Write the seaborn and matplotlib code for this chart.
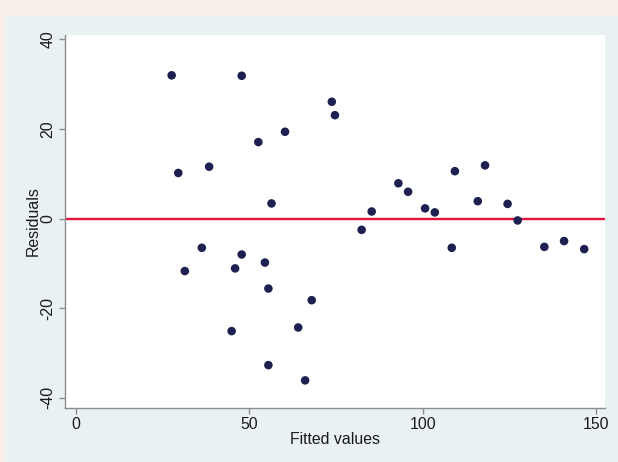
import numpy as np
import pandas as pd
import seaborn as sns
import matplotlib.pyplot as plt
from matplotlib.patches import Rectangle

# residuals vs fitted values
fitted = [27.6, 47.8, 29.5, 38.4, 73.8, 74.7, 60.3, 52.6, 56.4, 85.3,
          93.0, 95.8, 100.7, 103.5, 109.3, 118.0, 115.9, 124.5, 127.4, 36.3,
          47.8, 45.9, 31.4, 44.9, 82.4, 54.5, 55.5, 68.0, 64.1, 55.5,
          66.1, 108.4, 135.1, 140.8, 146.6]
resid = [32.0, 31.9, 10.2, 11.6, 26.1, 23.1, 19.4, 17.1, 3.4, 1.6,
         7.9, 6.0, 2.3, 1.4, 10.6, 11.9, 3.9, 3.3, -0.4, -6.5,
         -8.0, -11.1, -11.7, -25.1, -2.5, -9.8, -15.6, -18.2, -24.3, -32.7,
         -36.1, -6.5, -6.3, -5.0, -6.8]
x_ticks = [0, 50, 100, 150]
y_ticks = [-40, -20, 0, 20, 40]

df = pd.DataFrame({"fitted": fitted, "resid": resid})

plt.rcParams['font.family'] = ['Liberation Sans', 'DejaVu Sans']
plt.rcParams['axes.unicode_minus'] = False

W, H = 618, 462
fig = plt.figure(figsize=(W / 100, H / 100), dpi=100, facecolor='#f8eee8')
#stata style graph region, kept behind the axes
fig.add_artist(Rectangle((5 / W, 0), 1, 1 - 16 / H, transform=fig.transFigure,
                         facecolor='#e9f1f3', edgecolor='none', zorder=-5))

ax = fig.add_axes([65 / W, 1 - 407.7 / H, 540 / W, (407.7 - 35) / H])
ax.set_zorder(2)
ax.set_facecolor('white')

sns.scatterplot(x='fitted', y='resid', data=df, ax=ax, color='#1d2050',
                s=38, edgecolor='none', zorder=3)
ax.axhline(0, color='#e0143c', lw=1.7, zorder=2)

ax.set_xlim(-3.17, 152.6)
ax.set_ylim(-42.2, 41.0)
ax.set_xticks(x_ticks)
ax.set_yticks(y_ticks)
ax.set_yticklabels([str(t) for t in y_ticks], rotation=90, va='center')

for s in ['top', 'right']:
    ax.spines[s].set_visible(False)
for s in ['left', 'bottom']:
    ax.spines[s].set_color('#8c8c8c')
    ax.spines[s].set_linewidth(1.0)
ax.tick_params(axis='both', direction='out', length=4, width=1.0,
               color='#8c8c8c', labelsize=11.4, labelcolor='#1a1a1a')
ax.tick_params(axis='y', pad=3)
ax.tick_params(axis='x', pad=3)

ax.set_xlabel("Fitted values", fontsize=11.4, color='#1a1a1a', labelpad=0)
ax.set_ylabel("Residuals", fontsize=11.4, color='#1a1a1a', labelpad=0)

fig.savefig("out.png", dpi=100, facecolor=fig.get_facecolor())
